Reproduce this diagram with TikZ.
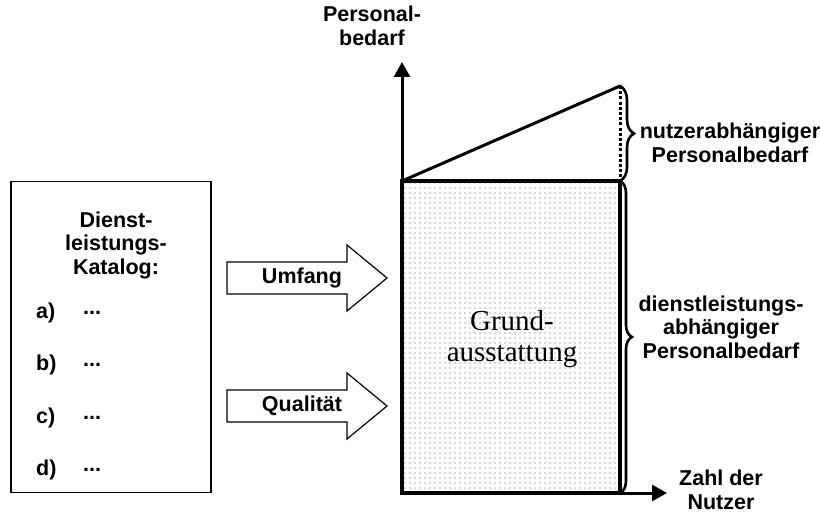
\documentclass[tikz,border=0pt]{standalone}
\usepackage{fontspec}
\setmainfont{Liberation Sans}
\newfontfamily\serifface{Liberation Serif}
\usetikzlibrary{arrows.meta,patterns.meta,decorations.pathreplacing}

\begin{document}
\begin{tikzpicture}[x=1pt,y=-1pt,
  lbl/.style={font=\bfseries\fontsize{21.5}{23.5}\selectfont, align=center, inner sep=0pt},
  blockarrow/.style={draw, line width=1.2pt, fill=white, line join=miter},
  axisline/.style={line width=3pt, -{Triangle[width=16pt,length=15pt]}},
  bracestyle/.style={line width=2.6pt, decorate},
  framebox/.style={draw, line width=1.4pt, inner sep=0pt},
  basebox/.style={draw, line width=4pt, inner sep=0pt,
    pattern={Dots[distance=5pt, radius=0.7pt]}, pattern color=black!70}]
\useasboundingbox (0,0) rectangle (820,513);

% catalogue of services
\node[framebox, minimum width=200pt, minimum height=311pt] (katalog) at (111,337) {};
\node[lbl] (kattitel) at (116,245) {Dienst-\\leistungs-\\Katalog:};
\node[lbl, anchor=west] (ia) at (36,313) {a)};
\node[lbl, anchor=west] (ib) at (36,365) {b)};
\node[lbl, anchor=west] (ic) at (36,418) {c)};
\node[lbl, anchor=west] (id) at (36,470) {d)};
\node[lbl, anchor=west] (pa) at (83,313) {...};
\node[lbl, anchor=west] (pb) at (83,365) {...};
\node[lbl, anchor=west] (pc) at (83,418) {...};
\node[lbl, anchor=west] (pd) at (83,470) {...};

% block arrows
\draw[blockarrow] (227,262) -- (347,262) -- (347,245) -- (387,278) -- (347,311) -- (347,294) -- (227,294) -- cycle;
\node[lbl] (umfang) at (302,278) {Umfang};
\draw[blockarrow] (227,390) -- (347,390) -- (347,373) -- (387,406) -- (347,439) -- (347,422) -- (227,422) -- cycle;
\node[lbl] (qualitaet) at (302,406) {Qualität};

% user-dependent part above the base block
\coordinate (o) at (402,493);
\coordinate (tl) at (402,181);
\coordinate (tr) at (620,181);
\coordinate (top) at (620,86);
\draw[line width=3pt, dash pattern=on 3pt off 2.2pt] (top) -- (tr);
\draw[line width=3pt, line cap=round] (tl) -- (top);

% base block
\node[basebox, minimum width=218pt, minimum height=312pt] (grund) at (511,337) {};
\node[font=\serifface\fontsize{29}{31}\selectfont, align=center, inner sep=0pt] (grundtext) at (512,339) {Grund-\\ausstattung};

% axes
\draw[axisline] (o) -- (402,62);
\draw[axisline] (o) -- (667,493);

% braces
\draw[bracestyle, decoration={brace, amplitude=14pt, aspect=0.5}] (top) -- (tr);
\draw[bracestyle, decoration={brace, amplitude=12pt, aspect=0.5}] (tr) -- (620,493);

% labels
\node[lbl] (ylab) at (372,26) {Personal-\\bedarf};
\node[lbl] (nutzlab) at (730,143) {nutzerabhängiger\\Personalbedarf};
\node[lbl] (dienstlab) at (721,327) {dienstleistungs-\\abhängiger\\Personalbedarf};
\node[lbl] (xlab) at (721,490) {Zahl der\\Nutzer};
\end{tikzpicture}
\end{document}
